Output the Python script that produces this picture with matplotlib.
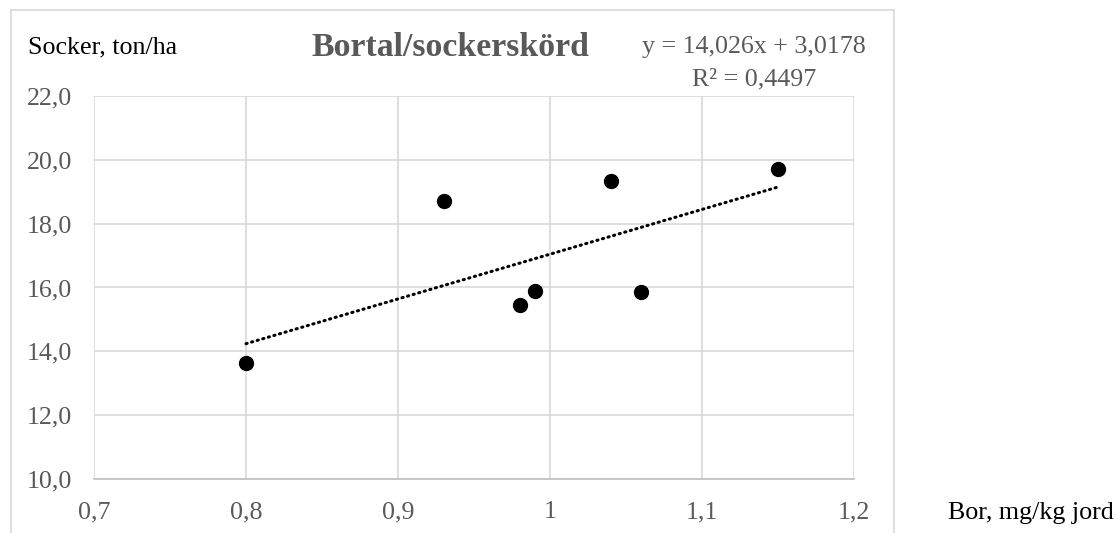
import numpy as np
import matplotlib
matplotlib.use("Agg")
import matplotlib.pyplot as plt
from matplotlib.lines import Line2D

# data
bor = [0.80, 0.93, 0.98, 0.99, 1.04, 1.06, 1.15]
socker = [13.65, 18.70, 15.45, 15.90, 19.35, 15.85, 19.70]
trend_slope = 14.026
trend_intercept = 3.0178
x_ticks = [0.7, 0.8, 0.9, 1.0, 1.1, 1.2]
y_ticks = [10, 12, 14, 16, 18, 20, 22]

title = "Bortal/sockerskörd"
y_title = "Socker, ton/ha"
x_title = "Bor, mg/kg jord"
eq_text = "y = 14,026x + 3,0178"
r2_text = "R² = 0,4497"

W, H = 1117, 533
GRID = "#D9D9D9"
TXT = "#595959"
FS = 18.7

plt.rcParams["font.family"] = ["Liberation Serif", "DejaVu Serif"]


def px(x, y):
    return x / W, 1 - y / H


def fmt_x(v):
    return f"{v:g}".replace(".", ",")


fig = plt.figure(figsize=(W / 100, H / 100), dpi=100)
ax = fig.add_axes([94 / W, 1 - 479 / H, (854 - 94) / W, (479 - 96) / H])

ax.scatter(bor, socker, s=100, color="black", zorder=3)

xs = np.array([min(bor), max(bor)])
ax.plot(xs, trend_slope * xs + trend_intercept, color="black", lw=2.2,
        linestyle=(0, (0.4, 1.5)), dash_capstyle="round", zorder=2)

ax.set_xlim(0.7, 1.2)
ax.set_ylim(10, 22)
ax.set_xticks(x_ticks)
ax.set_yticks(y_ticks)
ax.set_xticklabels([fmt_x(v) for v in x_ticks])
ax.set_yticklabels([f"{v:.1f}".replace(".", ",") for v in y_ticks])
ax.tick_params(length=0, labelsize=FS, labelcolor=TXT)
ax.tick_params(axis="y", pad=16)
ax.tick_params(axis="x", pad=16)
ax.grid(True, color=GRID, lw=1.2)
ax.set_axisbelow(True)
for side in ["left", "right", "top"]:
    ax.spines[side].set_visible(False)
ax.spines["bottom"].set_color("#BFBFBF")
ax.spines["bottom"].set_linewidth(1.2)

# chart border (bottom edge runs off the image)
for (x0, y0), (x1, y1) in [((11, 540), (11, 10)), ((11, 10), (894, 10)), ((894, 10), (894, 540))]:
    a, b = px(x0, y0)
    c, d = px(x1, y1)
    fig.add_artist(Line2D([a, c], [b, d], color=GRID, lw=1.2))

fig.text(*px(28, 47), y_title, fontsize=FS, color="black", va="center", ha="left")
fig.text(*px(311, 48), title, fontsize=24.3, fontweight="bold", color=TXT, va="center", ha="left")
fig.text(*px(754, 47), eq_text, fontsize=FS, color=TXT, va="center", ha="center")
fig.text(*px(754, 79), r2_text, fontsize=FS, color=TXT, va="center", ha="center")
fig.text(*px(948, 513), x_title, fontsize=FS, color="black", va="center", ha="left")

fig.savefig("out.png", dpi=100)
plt.close(fig)
